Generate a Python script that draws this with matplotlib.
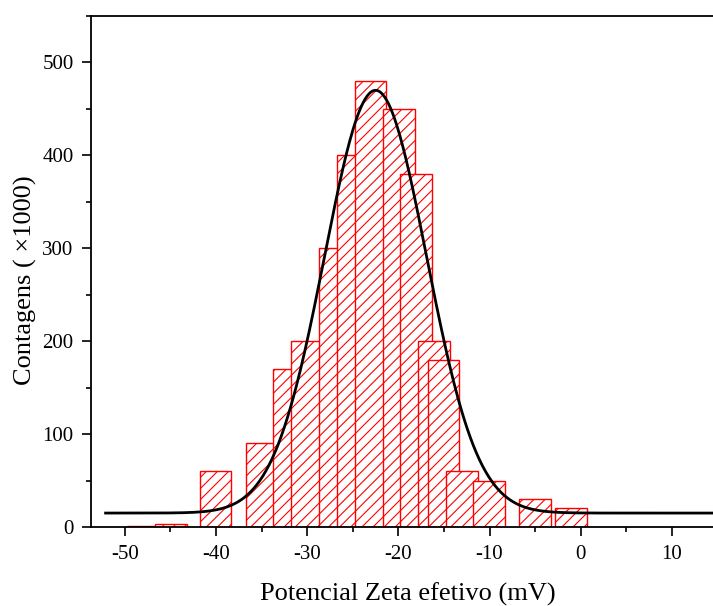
import numpy as np
import matplotlib
matplotlib.use("Agg")
import matplotlib.pyplot as plt
from matplotlib.ticker import MultipleLocator

plt.rcParams['font.family'] = ['Liberation Serif', 'DejaVu Serif']
plt.rcParams['axes.unicode_minus'] = False
plt.rcParams['hatch.linewidth'] = 0.8

# histogram bars: left edge (mV), height (x1000)
bar_left = [-49.7, -46.7, -41.8, -36.75, -33.75, -31.75, -28.75, -26.75, -24.8,
            -21.7, -19.8, -17.8, -16.8, -14.8, -11.8, -6.8, -2.8]
bar_height = [1, 3, 60, 90, 170, 200, 300, 400, 480,
              450, 380, 200, 180, 60, 50, 30, 20]
bar_width = 3.5

# gaussian fit
fit_y0 = 15
fit_xc = -22.5
fit_sigma = 5.6
fit_amp = 455

fig = plt.figure(figsize=(7.13, 6.06), dpi=100)
ax = fig.add_axes([91/713, 79/606, 1 - 91/713, 511/606])

for x0, h in zip(bar_left, bar_height):
    ax.bar(x0, h, width=bar_width, align='edge', facecolor='white',
           edgecolor='red', linewidth=1.0, hatch='///')

xs = np.linspace(-52.1, 15, 600)
ys = fit_y0 + fit_amp * np.exp(-(xs - fit_xc)**2 / (2 * fit_sigma**2))
ax.plot(xs, ys, color='black', lw=2, zorder=5)

ax.set_xlim(-53.7, 14.5)
ax.set_ylim(0, 550)
ax.xaxis.set_major_locator(MultipleLocator(10))
ax.xaxis.set_minor_locator(MultipleLocator(5))
ax.yaxis.set_major_locator(MultipleLocator(100))
ax.yaxis.set_minor_locator(MultipleLocator(50))
ax.tick_params(which='major', direction='out', length=6.5, width=1.2, labelsize=15)
ax.tick_params(which='minor', direction='out', length=3.5, width=1.2)
ax.tick_params(axis='x', which='major', pad=6.5)
ax.tick_params(axis='y', which='major', pad=6)
ax.tick_params(axis='y', which='both', right=False)
ax.tick_params(axis='x', which='both', top=False)

ax.spines['right'].set_visible(False)
for s in ['left', 'top', 'bottom']:
    ax.spines[s].set_linewidth(1.3)

ax.set_xlabel('Potencial Zeta efetivo (mV)', fontsize=19, labelpad=13)
ax.set_ylabel('Contagens ( ×1000)', fontsize=19, labelpad=4)
ax.xaxis.label.set_x(0.509)
ax.yaxis.label.set_y(0.483)

fig.savefig('out.png', dpi=100)
